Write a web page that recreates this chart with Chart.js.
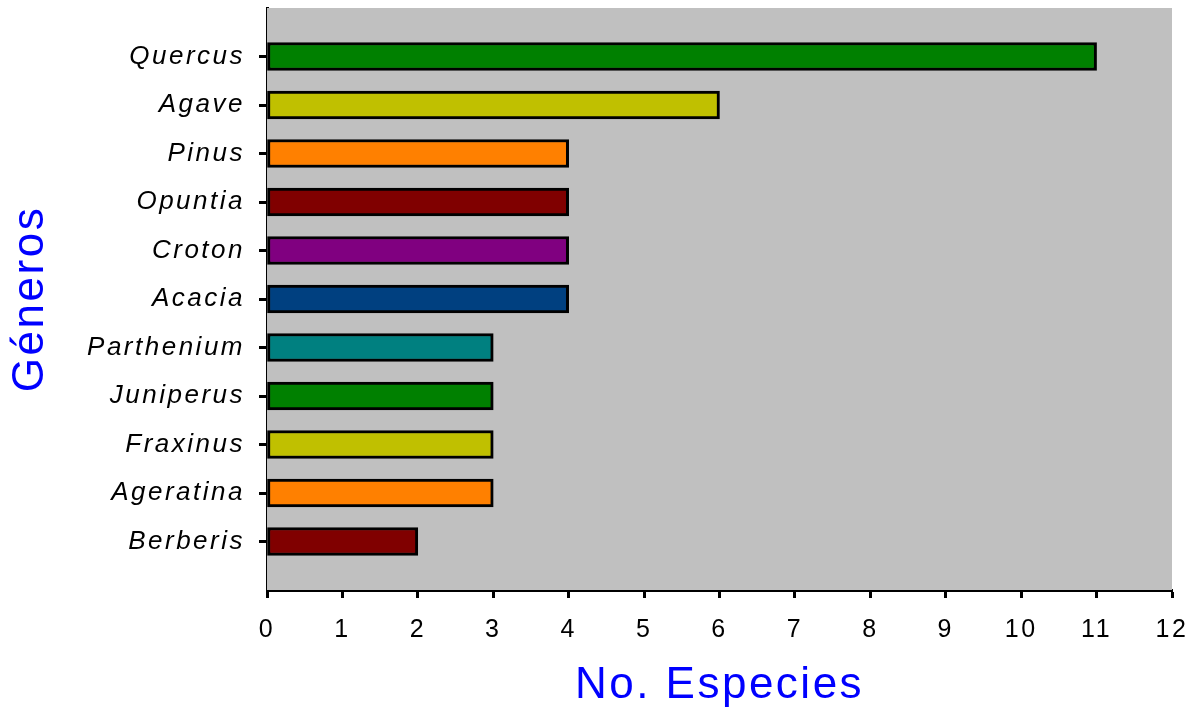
<!DOCTYPE html>
<html>
<head>
<meta charset="utf-8">
<script src="https://cdn.jsdelivr.net/npm/chart.js@4"></script>
<style>
    body { margin: 0; background: #fff; }
    #wrap { width: 1194px; height: 712px; position: relative; }
</style>
</head>
<body>
<div id="wrap"><canvas id="chart"></canvas></div>
<script>
// blank slots at both ends keep the half-slot gap seen in the picture
const generos = ["", "Quercus", "Agave", "Pinus", "Opuntia", "Croton", "Acacia", "Parthenium", "Juniperus", "Fraxinus", "Ageratina", "Berberis", ""];
const especies = [null, 11, 6, 4, 4, 4, 4, 3, 3, 3, 3, 2, null];
const barColors = ["", "#008000", "#C0C000", "#FF8000", "#800000", "#800080", "#004080", "#008080", "#008000", "#C0C000", "#FF8000", "#800000", ""];
const xTicks = [0, 1, 2, 3, 4, 5, 6, 7, 8, 9, 10, 11, 12];

const FONT = "'Liberation Sans', Arial, sans-serif";

const plotBg = {
    id: "plotBg",
    beforeDraw(chart) {
        // the original text is a bit spaced out
        chart.ctx.letterSpacing = "2.5px";
    },
    beforeDatasetsDraw(chart) {
        const { ctx, chartArea: a } = chart;
        ctx.save();
        ctx.fillStyle = "#C0C0C0";
        ctx.fillRect(a.left, a.top, a.right - a.left, a.bottom - a.top);
        ctx.restore();
    },
};

new Chart(document.getElementById("chart"), {
    type: "bar",
    data: {
        labels: generos,
        datasets: [
            {
                data: especies,
                backgroundColor: barColors,
                borderColor: "#000",
                borderWidth: 3,
                borderSkipped: false,
                barThickness: 28,
            },
        ],
    },
    options: {
        indexAxis: "y",
        responsive: true,
        maintainAspectRatio: false,
        animation: false,
        layout: { padding: { top: 8, right: 22, left: 0, bottom: 0 } },
        plugins: {
            legend: { display: false },
            tooltip: { enabled: false },
        },
        scales: {
            y: {
                type: "category",
                offset: false,
                afterFit(scale) {
                    scale.width = 267;
                    scale.paddingTop = 0;
                    scale.paddingBottom = 0;
                },
                grid: {
                    offset: false,
                    drawOnChartArea: false,
                    drawTicks: true,
                    tickLength: 8,
                    tickWidth: 3,
                    tickColor: (c) => (generos[c.index] ? "#000" : "rgba(0,0,0,0)"),
                },
                border: { display: true, color: "#000", width: 3 },
                ticks: {
                    color: "#000",
                    padding: 14,
                    autoSkip: false,
                    font: { family: FONT, size: 26, style: "italic" },
                },
                title: {
                    display: true,
                    text: "Géneros",
                    color: "#0000FF",
                    font: { family: FONT, size: 44 },
                    padding: { top: 4, bottom: 0 },
                },
            },
            x: {
                min: 0,
                max: 12,
                afterFit(scale) {
                    scale.height = 712 - 590;
                    scale.paddingLeft = 0;
                    scale.paddingRight = 0;
                },
                afterBuildTicks(scale) {
                    scale.ticks = xTicks.map((v) => ({ value: v }));
                },
                grid: {
                    drawOnChartArea: false,
                    drawTicks: true,
                    tickLength: 8,
                    tickWidth: 3,
                    tickColor: "#000",
                },
                border: { display: true, color: "#000", width: 3 },
                ticks: {
                    color: "#000",
                    padding: 17,
                    font: { family: FONT, size: 25 },
                },
                title: {
                    display: true,
                    text: "No. Especies",
                    color: "#0000FF",
                    font: { family: FONT, size: 44 },
                    padding: { top: 0, bottom: 0 },
                },
            },
        },
    },
    plugins: [plotBg],
});
</script>
</body>
</html>
